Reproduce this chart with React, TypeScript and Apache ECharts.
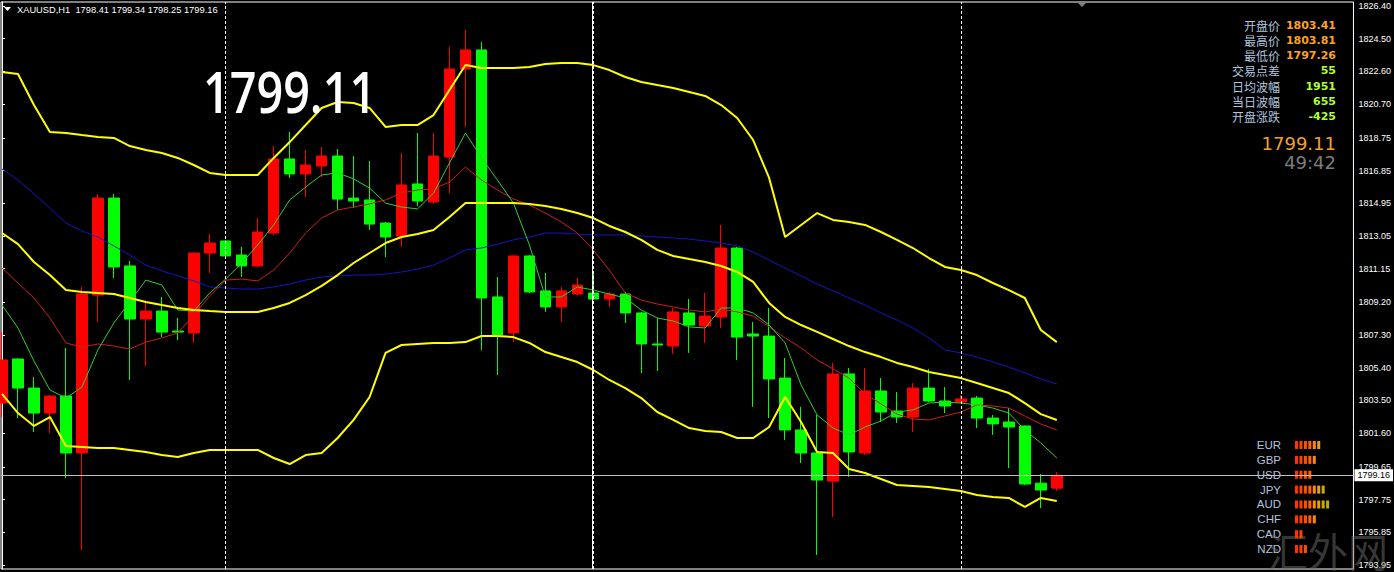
import React, { useEffect, useRef } from 'react';
import * as echarts from 'echarts';

// ---- header / panel texts ----
const symbolTitle = 'XAUUSD,H1';
const headerOHLC = ['1798.41', '1799.34', '1798.25', '1799.16'];
const infoLabels = ['开盘价', '最高价', '最低价', '交易点差', '日均波幅', '当日波幅', '开盘涨跌'];
const infoValues = ['1803.41', '1803.81', '1797.26', '55', '1951', '655', '-425'];
const bigPrice = '1799.11';
const timer = '49:42';
const currentPrice = 1799.16;
const watermark = '汇外网';

// ---- currency strength meter ----
const currencies = ['EUR', 'GBP', 'USD', 'JPY', 'AUD', 'CHF', 'CAD', 'NZD'];
const strength = [6, 5, 4, 7, 8, 5, 2, 3];

// ---- axis ----
const yTicks = [1826.40, 1824.50, 1822.60, 1820.70, 1818.75, 1816.85, 1814.95, 1813.05, 1811.15,
  1809.20, 1807.30, 1805.40, 1803.50, 1801.60, 1799.65, 1797.75, 1795.85, 1793.95];
const separators = [14, 37, 60];

// ---- candles (H1) ----
const opens = [1803.35, 1805.91, 1804.22, 1802.77, 1803.76, 1800.45, 1809.62, 1815.25, 1811.31, 1808.23,
  1808.69, 1807.53, 1807.42, 1812.06, 1812.76, 1811.94, 1811.31, 1813.22, 1817.52, 1816.65,
  1817.11, 1817.69, 1815.25, 1815.14, 1813.80, 1813.05, 1816.07, 1815.02, 1817.63, 1822.74,
  1823.85, 1809.51, 1807.42, 1811.89, 1809.86, 1808.93, 1809.68, 1809.74, 1809.39, 1809.68,
  1808.58, 1806.78, 1806.66, 1808.58, 1807.82, 1808.35, 1812.35, 1807.36, 1807.24, 1804.80,
  1801.79, 1800.45, 1798.82, 1805.04, 1800.45, 1804.05, 1802.89, 1802.54, 1804.22, 1803.47,
  1803.41, 1803.64, 1802.48, 1802.25, 1802.02, 1798.70, 1798.41];
const highs = [1807.47, 1805.95, 1804.86, 1803.80, 1806.55, 1810.09, 1815.49, 1815.49, 1811.60, 1809.16,
  1809.50, 1808.29, 1812.10, 1813.16, 1812.82, 1812.41, 1814.09, 1818.27, 1819.09, 1818.04,
  1818.22, 1818.10, 1817.69, 1817.40, 1813.86, 1817.87, 1819.03, 1819.03, 1824.02, 1825.01,
  1824.31, 1810.67, 1811.95, 1811.95, 1810.90, 1810.09, 1810.61, 1810.96, 1809.80, 1809.80,
  1808.64, 1808.29, 1808.87, 1809.39, 1809.74, 1813.69, 1812.41, 1808.06, 1808.87, 1805.97,
  1803.13, 1802.66, 1805.68, 1805.39, 1805.39, 1804.81, 1803.99, 1804.51, 1805.33, 1804.28,
  1803.81, 1803.76, 1802.66, 1803.06, 1802.05, 1799.23, 1799.34];
const lows = [1802.54, 1802.48, 1801.67, 1801.61, 1799.00, 1794.82, 1808.06, 1810.61, 1804.69, 1805.50,
  1807.18, 1807.01, 1806.84, 1810.90, 1811.83, 1810.67, 1811.25, 1813.10, 1816.42, 1815.31,
  1816.47, 1814.56, 1814.67, 1813.39, 1811.82, 1812.41, 1814.78, 1814.91, 1815.54, 1819.38,
  1806.43, 1804.98, 1806.89, 1809.74, 1808.64, 1808.06, 1809.62, 1809.33, 1808.93, 1808.00,
  1805.09, 1805.21, 1806.20, 1806.26, 1806.84, 1807.71, 1805.85, 1803.13, 1802.48, 1801.21,
  1799.87, 1794.53, 1796.73, 1799.07, 1800.33, 1802.25, 1802.19, 1801.67, 1803.41, 1802.77,
  1803.35, 1801.90, 1801.50, 1799.58, 1798.59, 1797.26, 1798.25];
const closes = [1805.85, 1804.22, 1802.77, 1803.76, 1800.45, 1809.68, 1815.25, 1811.25, 1808.23, 1808.69,
  1807.47, 1807.47, 1812.06, 1812.64, 1811.89, 1811.31, 1813.28, 1817.52, 1816.65, 1817.17,
  1817.69, 1815.19, 1815.08, 1813.74, 1812.99, 1816.01, 1815.08, 1817.69, 1822.74, 1823.85,
  1809.45, 1807.30, 1811.89, 1809.80, 1808.93, 1809.86, 1810.20, 1809.39, 1809.68, 1808.58,
  1806.78, 1806.72, 1808.64, 1807.88, 1808.40, 1812.35, 1807.18, 1807.24, 1804.75, 1801.79,
  1800.45, 1798.88, 1805.04, 1800.51, 1804.05, 1802.83, 1802.54, 1804.22, 1803.47, 1803.18,
  1803.59, 1802.48, 1802.14, 1801.96, 1798.65, 1798.30, 1799.16];

// ---- indicators ----
const upperBand = [1822.57, 1822.45, 1820.65, 1819.09, 1819.03, 1818.91, 1818.80, 1818.74, 1818.27, 1818.04,
  1817.87, 1817.58, 1817.17, 1816.71, 1816.59, 1816.59, 1816.59, 1817.58, 1818.50, 1819.49,
  1820.48, 1820.83, 1820.77, 1820.48, 1819.38, 1819.49, 1819.49, 1820.07, 1821.52, 1822.97,
  1822.80, 1822.80, 1822.80, 1822.86, 1823.03, 1823.09, 1823.09, 1822.97, 1822.68, 1822.28,
  1821.99, 1821.81, 1821.64, 1821.41, 1821.18, 1820.65, 1819.90, 1818.62, 1816.42, 1812.99,
  1813.69, 1814.38, 1813.98, 1813.86, 1813.69, 1813.28, 1812.82, 1812.35, 1811.77, 1811.25,
  1811.07, 1810.78, 1810.32, 1809.91, 1809.45, 1807.59, 1806.89];
const midBand = [1813.22, 1812.58, 1811.54, 1810.78, 1809.91, 1809.80, 1809.74, 1809.68, 1809.45, 1809.22,
  1809.04, 1808.87, 1808.75, 1808.69, 1808.64, 1808.64, 1808.64, 1808.87, 1809.16, 1809.62,
  1810.15, 1810.78, 1811.48, 1812.06, 1812.64, 1812.99, 1813.16, 1813.40, 1814.15, 1814.96,
  1814.96, 1814.96, 1814.96, 1814.91, 1814.79, 1814.62, 1814.38, 1814.09, 1813.63, 1813.28,
  1812.82, 1812.24, 1811.89, 1811.71, 1811.54, 1811.31, 1810.96, 1810.38, 1809.16, 1808.35,
  1807.88, 1807.48, 1807.07, 1806.66, 1806.31, 1806.02, 1805.68, 1805.44, 1805.15, 1804.98,
  1804.80, 1804.51, 1804.22, 1803.93, 1803.35, 1802.71, 1802.37];
const lowerBand = [1803.88, 1802.77, 1802.02, 1802.54, 1800.86, 1800.80, 1800.74, 1800.74, 1800.63, 1800.51,
  1800.33, 1800.22, 1800.45, 1800.63, 1800.63, 1800.63, 1800.63, 1800.16, 1799.81, 1800.33,
  1800.45, 1801.32, 1802.37, 1803.70, 1806.26, 1806.72, 1806.78, 1806.84, 1806.84, 1806.89,
  1807.24, 1807.24, 1807.18, 1806.84, 1806.31, 1806.02, 1805.73, 1805.27, 1804.69, 1804.22,
  1803.64, 1802.83, 1802.37, 1801.90, 1801.73, 1801.67, 1801.32, 1801.32, 1801.96, 1803.70,
  1802.25, 1800.51, 1800.45, 1799.52, 1799.29, 1798.94, 1798.59, 1798.54, 1798.48, 1798.36,
  1798.24, 1798.01, 1797.90, 1797.84, 1797.32, 1797.84, 1797.66];
const maSlow = [1816.94, 1816.30, 1815.49, 1814.67, 1813.80, 1813.34, 1812.99, 1812.47, 1811.94, 1811.36,
  1811.02, 1810.73, 1810.44, 1810.09, 1810.03, 1809.97, 1809.97, 1810.09, 1810.26, 1810.49,
  1810.67, 1810.73, 1810.78, 1810.78, 1810.84, 1810.96, 1811.13, 1811.36, 1811.77, 1812.24,
  1812.35, 1812.58, 1812.82, 1812.99, 1813.22, 1813.22, 1813.16, 1813.11, 1813.11, 1813.11,
  1813.05, 1812.99, 1812.93, 1812.87, 1812.76, 1812.64, 1812.47, 1812.12, 1811.65, 1811.19,
  1810.73, 1810.26, 1809.86, 1809.45, 1809.04, 1808.58, 1808.17, 1807.71, 1807.13, 1806.43,
  1806.26, 1806.02, 1805.73, 1805.44, 1805.10, 1804.75, 1804.46];
const maMid = [1811.19, 1810.32, 1809.45, 1808.29, 1806.84, 1806.60, 1806.78, 1806.66, 1806.49, 1806.89,
  1807.13, 1807.42, 1808.46, 1809.57, 1810.49, 1810.55, 1810.44, 1811.07, 1812.06, 1813.22,
  1814.09, 1814.56, 1814.73, 1814.91, 1815.14, 1815.54, 1815.72, 1815.78, 1816.18, 1817.05,
  1816.30, 1815.72, 1815.20, 1814.85, 1814.38, 1813.86, 1813.22, 1812.24, 1811.07, 1809.74,
  1809.33, 1809.10, 1808.93, 1808.75, 1808.64, 1808.81, 1808.64, 1808.40, 1807.77, 1807.13,
  1806.55, 1805.85, 1805.33, 1804.80, 1803.88, 1803.30, 1802.71, 1802.42, 1802.37, 1802.60,
  1802.83, 1803.24, 1803.18, 1803.06, 1802.60, 1802.13, 1801.79];
const maFast = [1809.04, 1807.71, 1805.79, 1804.11, 1803.64, 1804.28, 1806.43, 1808.00, 1809.22, 1810.49,
  1810.20, 1808.75, 1808.69, 1809.74, 1810.55, 1811.48, 1812.53, 1813.69, 1815.14, 1815.89,
  1816.59, 1816.71, 1816.36, 1815.83, 1814.96, 1814.73, 1814.62, 1815.54, 1817.29, 1819.03,
  1817.58, 1816.30, 1814.96, 1812.53, 1809.51, 1809.51, 1810.09, 1809.91, 1809.68, 1809.45,
  1808.75, 1808.29, 1808.11, 1807.77, 1807.71, 1808.87, 1808.87, 1808.58, 1807.88, 1806.84,
  1804.40, 1802.66, 1801.90, 1801.50, 1801.96, 1802.31, 1802.83, 1802.95, 1803.35, 1803.41,
  1803.35, 1803.24, 1803.06, 1802.77, 1801.79, 1801.03, 1800.16];

const segColors = ['#ff3300', '#ff4000', '#ff5000', '#ff6000', '#ff8a00', '#e6a010', '#d0a800', '#b8ac10', '#a0b020'];

export default function App() {
  const ref = useRef<HTMLDivElement>(null);

  useEffect(() => {
    if (!ref.current) return;
    const chart = echarts.init(ref.current, null, { renderer: 'svg' });

    const candleData = closes.map((_, i) => [i, opens[i], closes[i], lows[i], highs[i]]);
    const toLine = (arr: number[]) => arr.map((v, i) => [i, v]);
    const lineSeries = (arr: number[], color: string, width: number) => ({
      type: 'line',
      xAxisIndex: 0,
      yAxisIndex: 0,
      data: toLine(arr),
      showSymbol: false,
      symbol: 'none',
      silent: true,
      z: 4,
      lineStyle: { color, width },
    });

    const graphics: any[] = [
      { type: 'polygon', z: 100, shape: { points: [[4, 7], [11, 7], [7.5, 11]] }, style: { fill: '#ffffff' } },
      {
        type: 'text', z: 100, x: 17, y: 10,
        style: { text: `${symbolTitle}  ${headerOHLC.join(' ')}`, fill: '#ffffff', font: '9.3px "Liberation Sans"', textVerticalAlign: 'middle' },
      },
      { type: 'polygon', z: 100, shape: { points: [[1077, 2], [1087, 2], [1082, 7]] }, style: { fill: '#808080' } },
      {
        type: 'text', z: 100, x: 203, y: 91, scaleX: 0.82,
        style: { text: bigPrice, fill: '#ffffff', font: '600 57px "Open Sans"', textVerticalAlign: 'middle' },
      },
      {
        type: 'text', z: 100, x: 1336, y: 143,
        style: { text: bigPrice, fill: '#f0a030', font: '18px "DejaVu Sans"', textAlign: 'right', textVerticalAlign: 'middle' },
      },
      {
        type: 'text', z: 100, x: 1336, y: 162,
        style: { text: timer, fill: '#7c7c7c', font: '18px "DejaVu Sans"', textAlign: 'right', textVerticalAlign: 'middle' },
      },
      {
        type: 'text', z: 1, x: 1268, y: 530,
        style: { text: watermark, fill: 'rgba(110,110,110,0.5)', font: '40px "Noto Sans CJK SC"', textVerticalAlign: 'top' },
      },
    ];
    infoLabels.forEach((lab, i) => {
      const y = 25 + i * 15.3;
      graphics.push({
        type: 'text', z: 100, x: 1280, y,
        style: { text: lab, fill: '#b0c4de', font: '12px "Noto Sans CJK SC"', textAlign: 'right', textVerticalAlign: 'middle' },
      });
      graphics.push({
        type: 'text', z: 100, x: 1336, y,
        style: { text: infoValues[i], fill: i < 3 ? '#ffa020' : '#adff2f', font: 'bold 11px "DejaVu Sans"', textAlign: 'right', textVerticalAlign: 'middle' },
      });
    });

    const option: any = {
      animation: false,
      backgroundColor: '#000000',
      grid: [
        { left: 1, right: 39, top: 2, bottom: 3, show: true, borderColor: '#ffffff', borderWidth: 1, backgroundColor: 'transparent' },
        { left: 1295, top: 437.6, width: 44.4, height: 118.9 },
      ],
      xAxis: [
        { type: 'value', gridIndex: 0, min: -0.0625, max: 84.5625, show: false },
        { type: 'value', gridIndex: 1, min: 0, max: 10, show: false },
      ],
      yAxis: [
        {
          type: 'value', gridIndex: 0, position: 'right', min: 1793.717, max: 1826.632,
          axisLine: { show: true, lineStyle: { color: '#ffffff', width: 1 } },
          axisTick: { show: true, inside: false, length: 3, lineStyle: { color: '#ffffff' }, customValues: yTicks },
          axisLabel: {
            show: true, color: '#ffffff', fontSize: 9, fontFamily: 'Liberation Sans', margin: 5,
            customValues: yTicks, formatter: (v: number) => v.toFixed(2),
          },
          splitLine: { show: false },
        },
        {
          type: 'category', gridIndex: 1, data: currencies, inverse: true,
          axisLine: { show: false }, axisTick: { show: false }, splitLine: { show: false },
          axisLabel: { color: '#b0c4de', fontSize: 11.5, fontFamily: 'Liberation Sans', margin: 14, interval: 0 },
        },
      ],
      series: [
        {
          type: 'candlestick',
          xAxisIndex: 0, yAxisIndex: 0,
          data: candleData,
          barWidth: 11,
          z: 3,
          silent: true,
          itemStyle: { color: '#ff0000', color0: '#00ff00', borderColor: '#ff0000', borderColor0: '#00ff00', borderWidth: 1 },
          markLine: {
            silent: true,
            symbol: ['none', 'none'],
            z: 6,
            label: { show: false },
            data: [
              ...separators.map((s) => ({ xAxis: s, lineStyle: { color: '#ffffff', type: [3, 2], width: 1 } })),
              { xAxis: 36.92, lineStyle: { color: '#ffffff', type: 'solid', width: 1 } },
              {
                yAxis: currentPrice,
                lineStyle: { color: '#c0c0c0', type: 'solid', width: 1 },
                label: {
                  show: true, position: 'end', formatter: currentPrice.toFixed(2), backgroundColor: '#ffffff',
                  color: '#000000', fontSize: 9, fontFamily: 'Liberation Sans', padding: [2, 3, 1, 3], distance: 1,
                },
              },
            ],
          },
        },
        lineSeries(maSlow, '#1414c8', 1),
        lineSeries(maMid, '#d01c1c', 1),
        lineSeries(maFast, '#33cc33', 1),
        lineSeries(upperBand, '#ffff00', 2),
        lineSeries(midBand, '#ffff00', 2),
        lineSeries(lowerBand, '#ffff00', 2),
        {
          type: 'custom',
          xAxisIndex: 1, yAxisIndex: 1,
          silent: true,
          encode: { x: 0, y: 1 },
          data: strength.map((n, i) => [n, i]),
          renderItem: (_params: any, api: any) => {
            const n = api.value(0) as number;
            const cat = api.value(1);
            const children: any[] = [];
            for (let k = 0; k < n; k++) {
              const a = api.coord([k, cat]);
              const b = api.coord([k + 1, cat]);
              children.push({
                type: 'rect',
                shape: { x: a[0], y: a[1] - 4, width: (b[0] - a[0]) - 1.4, height: 8 },
                style: { fill: segColors[k] },
              });
            }
            return { type: 'group', children };
          },
        },
      ],
      graphic: graphics,
    };

    chart.setOption(option);
    return () => chart.dispose();
  }, []);

  return (
    <div
      ref={ref}
      style={{ position: 'absolute', left: 0, top: 0, width: 1394, height: 572, background: '#000' }}
    />
  );
}
